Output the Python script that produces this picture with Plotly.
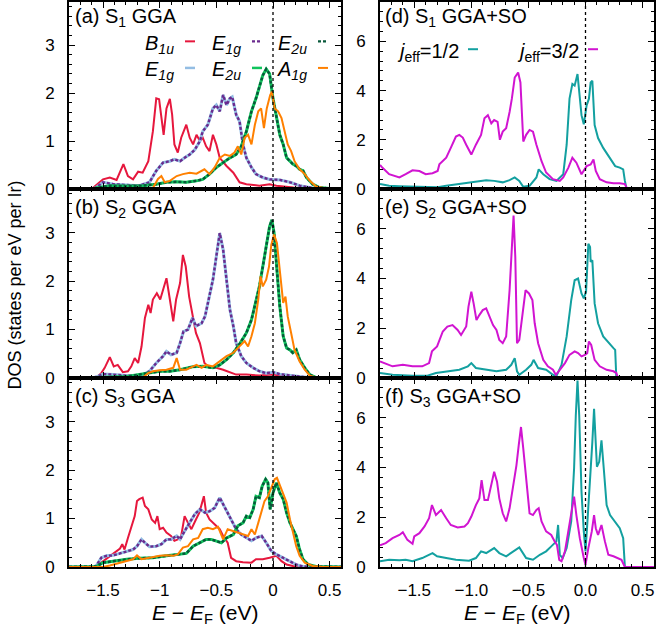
import plotly.graph_objects as go

# ---------------- data: (E - E_F [eV], DOS [states/eV/Ir]) ----------------
# (a) S1 GGA
a_B1u = [(-1.8,0),(-1.62,0),(-1.59,0.02),(-1.5,0.2),(-1.44,0.24),(-1.38,0.19),(-1.32,0.52),(-1.28,0.27),
         (-1.235,0.2),(-1.19,0.36),(-1.15,0.34),(-1.10,0.58),(-1.06,1.2),(-1.03,1.89),(-1.005,1.87),(-0.985,1.55),
         (-0.965,1.13),(-0.94,1.68),(-0.91,1.88),(-0.89,1.55),(-0.87,0.93),(-0.84,0.76),(-0.81,1.07),(-0.765,1.34),
         (-0.735,1.07),(-0.705,0.93),(-0.675,1.13),(-0.645,1.0),(-0.62,1.07),(-0.59,0.89),(-0.56,0.79),(-0.53,1.13),
         (-0.50,0.93),(-0.47,0.65),(-0.41,0.48),(-0.35,0.34),(-0.295,0.14),(-0.235,0.1),(-0.12,0.07),(-0.03,0.1),
         (0.03,0.07),(0.18,0.03),(0.35,0.0),(0.6,0)]
a_E1g = [(-1.8,0),(-1.6,0),(-1.56,0.03),(-1.5,0.14),(-1.41,0.1),(-1.29,0.09),(-1.18,0.07),(-1.09,0.14),(-1.03,0.38),
         (-0.97,0.55),(-0.91,0.58),(-0.87,0.62),(-0.82,0.58),(-0.78,0.65),(-0.735,0.72),(-0.69,0.82),(-0.645,1.0),
         (-0.62,1.2),(-0.575,1.34),(-0.53,1.68),(-0.5,1.75),(-0.47,1.62),(-0.44,1.96),(-0.41,1.75),(-0.38,1.89),
         (-0.36,1.92),(-0.325,1.55),(-0.295,1.41),(-0.265,0.93),(-0.235,0.65),(-0.19,0.45),(-0.15,0.31),(-0.09,0.24),
         (-0.03,0.2),(0.06,0.19),(0.15,0.14),(0.235,0.07),(0.35,0.02),(0.45,0),(0.6,0)]
a_E2u = [(-1.8,0),(-1.6,0),(-1.56,0.02),(-1.44,0.07),(-1.29,0.06),(-1.15,0.07),(-1.03,0.1),(-0.94,0.14),(-0.85,0.15),
         (-0.765,0.14),(-0.675,0.17),(-0.62,0.2),(-0.56,0.31),(-0.5,0.45),(-0.44,0.55),(-0.38,0.65),(-0.325,0.72),
         (-0.28,0.89),(-0.235,1.2),(-0.19,1.62),(-0.15,1.89),(-0.12,2.16),(-0.09,2.37),(-0.06,2.5),(-0.03,2.4),
         (0.0,1.89),(0.03,1.48),(0.06,1.13),(0.09,0.93),(0.12,0.65),(0.15,0.58),(0.175,0.52),(0.205,0.48),
         (0.235,0.41),(0.265,0.38),(0.295,0.24),(0.35,0.1),(0.41,0.03),(0.5,0.01),(0.6,0)]
a_A1g = [(-1.8,0),(-1.1,0),(-1.06,0.02),(-1.015,0.21),(-0.985,0.27),(-0.955,0.14),(-0.91,0.17),(-0.85,0.27),
         (-0.795,0.31),(-0.735,0.34),(-0.675,0.32),(-0.63,0.38),(-0.605,0.41),(-0.56,0.31),(-0.515,0.45),(-0.47,0.65),
         (-0.425,0.72),(-0.38,0.69),(-0.34,0.76),(-0.31,0.89),(-0.28,0.72),(-0.25,1.07),(-0.22,1.13),(-0.19,0.93),
         (-0.16,1.34),(-0.13,1.62),(-0.105,1.68),(-0.08,1.27),(-0.055,1.68),(-0.025,1.96),(-0.01,2.03),(0.015,1.68),
         (0.045,1.62),(0.075,1.48),(0.105,1.2),(0.13,0.93),(0.16,0.79),(0.19,0.58),(0.235,0.41),(0.28,0.31),
         (0.325,0.17),(0.38,0.05),(0.47,0.01),(0.6,0)]

# (b) S2 GGA
b_B1u = [(-1.8,0),(-1.6,0),(-1.56,0.01),(-1.515,0.1),(-1.485,0.21),(-1.44,0.43),(-1.405,0.24),(-1.37,0.27),
         (-1.325,0.12),(-1.28,0.14),(-1.25,0.24),(-1.22,0.41),(-1.19,0.31),(-1.16,0.65),(-1.13,1.24),(-1.10,1.51),
         (-1.08,1.34),(-1.06,1.62),(-1.025,1.75),(-0.995,1.62),(-0.97,1.82),(-0.94,2.06),(-0.91,1.62),(-0.88,1.17),
         (-0.855,1.62),(-0.82,1.96),(-0.795,2.54),(-0.77,2.3),(-0.74,1.68),(-0.71,1.34),(-0.68,0.93),(-0.645,0.72),
         (-0.605,0.31),(-0.56,0.21),(-0.5,0.21),(-0.44,0.17),(-0.38,0.12),(-0.325,0.07),(-0.235,0.07),(-0.12,0.05),
         (0.0,0.07),(0.12,0.03),(0.235,0.01),(0.35,0),(0.6,0)]
b_E1g = [(-1.8,0),(-1.6,0),(-1.56,0.02),(-1.5,0.08),(-1.41,0.07),(-1.29,0.05),(-1.18,0.03),(-1.09,0.14),(-1.03,0.31),
         (-0.97,0.45),(-0.94,0.55),(-0.90,0.48),(-0.85,0.52),(-0.82,0.72),(-0.79,0.96),(-0.75,1.0),(-0.71,1.24),
         (-0.68,1.07),(-0.63,1.13),(-0.60,1.27),(-0.575,1.55),(-0.53,2.03),(-0.5,2.51),(-0.47,2.99),(-0.44,2.65),
         (-0.41,2.03),(-0.38,1.41),(-0.35,1.07),(-0.325,0.72),(-0.28,0.45),(-0.235,0.31),(-0.175,0.21),(-0.12,0.14),
         (-0.06,0.1),(0.0,0.12),(0.06,0.08),(0.15,0.05),(0.235,0.03),(0.35,0.0),(0.6,0)]
b_E2u = [(-1.8,0),(-1.6,0),(-1.56,0.01),(-1.29,0.03),(-1.12,0.1),(-1.0,0.14),(-0.91,0.14),(-0.82,0.17),(-0.71,0.23),
         (-0.62,0.24),(-0.53,0.21),(-0.47,0.27),(-0.41,0.38),(-0.35,0.52),(-0.29,0.72),(-0.235,0.93),(-0.19,1.2),
         (-0.15,1.62),(-0.12,1.89),(-0.09,2.3),(-0.06,2.71),(-0.03,3.13),(-0.01,3.26),(0.01,2.99),(0.03,2.37),
         (0.06,1.48),(0.09,0.86),(0.12,0.62),(0.15,0.58),(0.175,0.52),(0.205,0.58),(0.235,0.38),(0.28,0.21),
         (0.325,0.07),(0.38,0.01),(0.6,0)]
b_A1g = [(-1.8,0),(-1.15,0.01),(-1.10,0.1),(-1.06,0.14),(-1.0,0.16),(-0.94,0.17),(-0.88,0.21),(-0.85,0.41),
         (-0.82,0.17),(-0.765,0.17),(-0.705,0.24),(-0.675,0.27),(-0.63,0.21),(-0.59,0.27),(-0.53,0.24),(-0.47,0.34),
         (-0.41,0.45),(-0.35,0.52),(-0.295,0.65),(-0.25,0.76),(-0.22,0.65),(-0.19,0.86),(-0.16,1.13),(-0.13,1.62),
         (-0.11,2.1),(-0.09,1.89),(-0.06,2.03),(-0.035,2.3),(-0.015,2.75),(0.01,2.96),(0.035,2.78),(0.06,2.16),
         (0.09,1.55),(0.11,1.68),(0.13,1.27),(0.16,0.93),(0.19,0.58),(0.235,0.34),(0.28,0.17),(0.325,0.05),
         (0.38,0.01),(0.6,0)]

# (c) S3 GGA
c_B1u = [(-1.8,0),(-1.6,0),(-1.56,0.01),(-1.515,0.09),(-1.455,0.19),(-1.4,0.3),(-1.35,0.38),(-1.33,0.47),
         (-1.31,0.36),(-1.28,0.6),(-1.25,0.85),(-1.22,1.05),(-1.2,1.36),(-1.18,1.4),(-1.15,1.43),(-1.13,1.26),
         (-1.10,1.19),(-1.07,0.98),(-1.04,0.91),(-1.02,1.05),(-1.0,0.78),(-0.97,0.81),(-0.94,0.71),(-0.9,0.64),
         (-0.87,0.54),(-0.84,0.57),(-0.81,0.64),(-0.78,1.05),(-0.75,0.91),(-0.72,0.78),(-0.68,0.98),(-0.65,1.12),
         (-0.61,1.46),(-0.59,1.12),(-0.56,0.98),(-0.515,0.88),(-0.47,0.78),(-0.44,0.64),(-0.4,0.5),(-0.37,0.19),
         (-0.325,0.12),(-0.265,0.1),(-0.19,0.09),(-0.15,0.16),(-0.09,0.16),(-0.03,0.19),(0.03,0.23),(0.075,0.12),
         (0.12,0.05),(0.175,0.02),(0.235,0),(0.6,0)]
c_E1g = [(-1.8,0),(-1.6,0),(-1.56,0.02),(-1.515,0.19),(-1.47,0.23),(-1.41,0.24),(-1.35,0.28),(-1.29,0.33),
         (-1.235,0.36),(-1.2,0.43),(-1.16,0.57),(-1.13,0.5),(-1.09,0.42),(-1.03,0.43),(-0.985,0.47),(-0.94,0.57),
         (-0.9,0.57),(-0.85,0.64),(-0.82,0.57),(-0.78,0.74),(-0.735,0.91),(-0.69,1.09),(-0.645,1.19),(-0.6,1.12),
         (-0.56,1.15),(-0.515,1.22),(-0.47,1.43),(-0.44,1.29),(-0.41,1.15),(-0.37,0.98),(-0.325,0.78),(-0.28,0.67),
         (-0.235,0.6),(-0.19,0.54),(-0.15,0.6),(-0.1,0.64),(-0.06,0.5),(-0.015,0.33),(0.03,0.26),(0.09,0.19),
         (0.15,0.12),(0.205,0.05),(0.265,0.01),(0.6,0)]
c_E2u = [(-1.8,0),(-1.6,0),(-1.56,0.01),(-1.5,0.09),(-1.41,0.12),(-1.29,0.16),(-1.18,0.18),(-1.06,0.19),(-0.94,0.23),
         (-0.82,0.26),(-0.765,0.28),(-0.705,0.43),(-0.645,0.5),(-0.59,0.57),(-0.545,0.57),(-0.5,0.54),(-0.455,0.5),
         (-0.41,0.6),(-0.35,0.67),(-0.31,0.85),(-0.265,0.91),(-0.235,1.05),(-0.205,1.02),(-0.175,1.19),(-0.15,1.46),
         (-0.12,1.43),(-0.095,1.67),(-0.065,1.81),(-0.045,1.74),(-0.025,1.19),(0.0,1.53),(0.03,1.74),(0.06,1.53),
         (0.09,1.4),(0.12,1.12),(0.15,0.91),(0.175,0.78),(0.205,0.64),(0.235,0.36),(0.265,0.16),(0.31,0.05),
         (0.38,0.01),(0.6,0)]
c_A1g = [(-1.8,0),(-1.5,0),(-1.44,0.03),(-1.35,0.09),(-1.29,0.12),(-1.235,0.16),(-1.2,0.24),(-1.16,0.16),
         (-1.09,0.19),(-1.0,0.23),(-0.94,0.24),(-0.88,0.23),(-0.84,0.26),(-0.795,0.4),(-0.75,0.43),(-0.705,0.57),
         (-0.66,0.6),(-0.62,0.78),(-0.575,0.81),(-0.53,0.78),(-0.485,0.83),(-0.44,0.57),(-0.4,0.78),(-0.35,0.74),
         (-0.295,0.71),(-0.25,0.67),(-0.22,0.64),(-0.19,0.78),(-0.16,0.67),(-0.13,0.91),(-0.1,1.19),(-0.075,1.36),
         (-0.045,1.46),(-0.015,1.64),(0.015,1.81),(0.035,1.84),(0.06,1.7),(0.09,1.53),(0.12,1.33),(0.15,0.98),
         (0.175,0.71),(0.205,0.43),(0.235,0.23),(0.28,0.09),(0.35,0.02),(0.44,0),(0.6,0)]

# (d) S1 GGA+SO
d_j12 = [(-1.8,0.2),(-1.72,0.13),(-1.63,0.11),(-1.515,0.09),(-1.4,0.07),(-1.295,0.07),(-1.22,0.13),(-1.105,0.2),
         (-0.99,0.27),(-0.87,0.36),(-0.8,0.33),(-0.725,0.27),(-0.665,0.36),(-0.62,0.47),(-0.58,0.33),(-0.545,0.09),
         (-0.49,0.13),(-0.43,0.47),(-0.41,0.8),(-0.37,0.6),(-0.315,0.4),(-0.255,0.33),(-0.195,0.6),(-0.165,1.8),
         (-0.14,3.67),(-0.115,4.27),(-0.095,4.2),(-0.07,4.67),(-0.035,3.0),(-0.015,2.63),(0.01,3.4),(0.03,3.67),
         (0.045,4.33),(0.06,4.4),(0.08,2.6),(0.11,2.07),(0.155,1.67),(0.215,1.27),(0.26,0.93),(0.3,0.87),
         (0.33,0.8),(0.345,0.33),(0.36,0),(0.6,0)]
d_j32 = [(-1.8,0.98),(-1.78,0.87),(-1.72,0.6),(-1.63,0.47),(-1.575,0.6),(-1.515,0.76),(-1.455,0.73),(-1.4,0.6),
         (-1.34,0.64),(-1.295,0.73),(-1.28,1.0),(-1.22,1.27),(-1.18,1.67),(-1.135,2.13),(-1.105,2.2),(-1.075,2.09),
         (-1.045,1.8),(-1.0,1.4),(-0.96,1.8),(-0.915,2.2),(-0.885,2.87),(-0.855,3.0),(-0.825,2.67),(-0.8,2.8),
         (-0.77,2.73),(-0.75,2.0),(-0.725,2.33),(-0.695,2.47),(-0.665,3.13),(-0.645,3.67),(-0.62,4.53),(-0.59,4.73),
         (-0.57,4.33),(-0.555,3.0),(-0.545,1.93),(-0.52,2.2),(-0.49,2.4),(-0.46,2.33),(-0.43,1.8),(-0.385,1.13),
         (-0.345,0.67),(-0.285,0.4),(-0.225,0.33),(-0.195,0.47),(-0.15,0.87),(-0.115,1.27),(-0.08,1.07),(-0.035,0.6),
         (0.01,0.93),(0.045,1.0),(0.07,1.2),(0.09,0.73),(0.125,0.4),(0.185,0.27),(0.245,0.23),(0.3,0.23),
         (0.345,0.2),(0.365,0.0),(0.6,0)]

# (e) S2 GGA+SO
e_j12 = [(-1.8,0.2),(-1.69,0.13),(-1.515,0.09),(-1.385,0.09),(-1.31,0.2),(-1.22,0.27),(-1.105,0.33),(-1.03,0.47),
         (-1.0,0.6),(-0.96,0.4),(-0.87,0.33),(-0.78,0.27),(-0.695,0.33),(-0.65,0.53),(-0.62,0.8),(-0.6,0.27),
         (-0.58,0.13),(-0.52,0.33),(-0.475,0.53),(-0.455,0.73),(-0.415,0.4),(-0.345,0.33),(-0.285,0.13),
         (-0.255,0.07),(-0.21,0.53),(-0.165,1.67),(-0.125,3.13),(-0.095,3.93),(-0.065,4.0),(-0.035,3.4),
         (-0.015,3.2),(0.005,3.47),(0.025,5.4),(0.04,5.27),(0.045,4.67),(0.06,4.73),(0.08,3.0),(0.11,2.2),
         (0.155,1.67),(0.215,1.33),(0.245,1.2),(0.26,1.13),(0.27,0),(0.6,0)]
e_j32 = [(-1.8,0.67),(-1.75,0.57),(-1.69,0.47),(-1.6,0.53),(-1.515,0.47),(-1.43,0.47),(-1.37,0.6),(-1.345,1.07),
         (-1.3,1.27),(-1.25,1.87),(-1.21,2.07),(-1.165,2.13),(-1.12,1.93),(-1.09,1.73),(-1.045,2.07),(-1.025,2.87),
         (-1.0,3.47),(-0.98,3.0),(-0.955,2.33),(-0.93,2.53),(-0.9,2.73),(-0.87,2.8),(-0.84,2.47),(-0.81,2.13),
         (-0.78,1.93),(-0.755,1.53),(-0.725,1.4),(-0.695,1.67),(-0.665,3.53),(-0.645,5.4),(-0.63,6.53),(-0.615,4.87),
         (-0.6,1.4),(-0.58,1.53),(-0.55,2.73),(-0.525,3.53),(-0.495,3.4),(-0.465,3.13),(-0.445,2.2),(-0.415,1.4),
         (-0.37,0.73),(-0.33,0.47),(-0.285,0.33),(-0.26,0.13),(-0.225,0.33),(-0.18,0.6),(-0.14,0.93),(-0.095,1.07),
         (-0.065,1.0),(-0.035,0.87),(-0.005,0.93),(0.015,1.0),(0.03,1.47),(0.05,1.33),(0.08,0.73),(0.125,0.47),
         (0.185,0.33),(0.245,0.27),(0.27,0.2),(0.285,0),(0.6,0)]

# (f) S3 GGA+SO
f_j12 = [(-1.8,0.23),(-1.72,0.29),(-1.63,0.27),(-1.575,0.29),(-1.515,0.23),(-1.43,0.36),(-1.34,0.56),(-1.3,0.43),
         (-1.22,0.36),(-1.135,0.29),(-1.02,0.25),(-0.96,0.36),(-0.915,0.63),(-0.87,0.56),(-0.8,0.76),(-0.755,0.56),
         (-0.695,0.43),(-0.635,0.63),(-0.58,0.79),(-0.52,0.36),(-0.46,0.29),(-0.4,0.49),(-0.345,0.63),(-0.3,0.83),
         (-0.255,1.03),(-0.24,1.69),(-0.225,0.49),(-0.2,0.36),(-0.165,0.76),(-0.125,1.83),(-0.1,3.96),(-0.085,6.09),
         (-0.07,7.5),(-0.055,6.09),(-0.035,3.03),(-0.015,1.43),(0.0,0.63),(0.015,1.69),(0.04,3.43),(0.06,5.03),
         (0.075,6.36),(0.09,4.89),(0.1,4.03),(0.12,4.23),(0.14,5.09),(0.16,3.96),(0.185,2.49),(0.215,2.09),
         (0.26,1.83),(0.3,1.56),(0.33,1.16),(0.345,0),(0.6,0)]
f_j32 = [(-1.8,0.87),(-1.75,0.96),(-1.69,1.16),(-1.63,1.29),(-1.6,1.4),(-1.56,1.09),(-1.515,0.93),(-1.5,1.23),
         (-1.455,1.36),(-1.41,1.63),(-1.37,1.96),(-1.345,2.49),(-1.31,2.09),(-1.265,2.29),(-1.22,1.96),(-1.18,1.69),
         (-1.12,1.59),(-1.06,1.63),(-1.03,1.76),(-1.0,2.03),(-0.96,2.49),(-0.93,2.76),(-0.91,3.49),(-0.885,2.69),
         (-0.855,2.69),(-0.825,3.29),(-0.8,3.83),(-0.775,3.43),(-0.755,2.76),(-0.725,2.16),(-0.695,1.83),(-0.665,2.36),
         (-0.635,3.16),(-0.605,4.09),(-0.585,4.89),(-0.565,5.63),(-0.545,4.76),(-0.52,3.43),(-0.49,2.16),(-0.46,2.09),
         (-0.43,2.29),(-0.41,2.36),(-0.385,1.83),(-0.345,1.43),(-0.3,1.29),(-0.27,1.03),(-0.25,0.89),(-0.23,0.29),
         (-0.21,0.23),(-0.18,0.63),(-0.15,1.43),(-0.125,2.23),(-0.1,2.83),(-0.08,2.09),(-0.05,1.16),(-0.015,0.36),
         (0.0,0.09),(0.025,0.76),(0.055,1.43),(0.075,2.09),(0.09,1.56),(0.11,1.29),(0.14,1.69),(0.17,1.03),
         (0.2,0.49),(0.245,0.43),(0.29,0.36),(0.315,0.29),(0.345,0),(0.6,0)]

panel_titles = ["(a) S<sub>1</sub> GGA", "(b) S<sub>2</sub> GGA", "(c) S<sub>3</sub> GGA",
                "(d) S<sub>1</sub> GGA+SO", "(e) S<sub>2</sub> GGA+SO", "(f) S<sub>3</sub> GGA+SO"]
gga_sets = [(a_B1u, a_E1g, a_E2u, a_A1g), (b_B1u, b_E1g, b_E2u, b_A1g), (c_B1u, c_E1g, c_E2u, c_A1g)]
so_sets = [(d_j12, d_j32), (e_j12, e_j32), (f_j12, f_j32)]

# ---------------- styles ----------------
W, H = 656, 640
FONT = "Liberation Sans, Arial, Helvetica, sans-serif"
C_B1U = "#e6173d"
C_E1G_SOLID = "#93bde3"
C_E1G_DOT = "#6a2a8e"
C_E2U_SOLID = "#10c45c"
C_E2U_DOT = "#07583a"
C_A1G = "#ff8000"
C_J12 = "#13a0a0"
C_J32 = "#d114d1"
DOT = "3px,2px"

xdom = [[69 / W, 341 / W], [380 / W, 654 / W]]
ydom = [[1 - 192 / H, 1 - 2 / H], [1 - 384 / H, 1 - 192 / H], [1 - 576 / H, 1 - 384 / H]]


def xid(i):
    return "x" if i == 1 else f"x{i}"


def yid(i):
    return "y" if i == 1 else f"y{i}"


def xy(pts):
    xs, ys = zip(*pts)
    return list(xs), list(ys)


fig = go.Figure()


def add(idx, pts, color, width, dash=None):
    xs, ys = xy(pts)
    fig.add_trace(go.Scatter(x=xs, y=ys, mode="lines", xaxis=xid(idx), yaxis=yid(idx),
                             line=dict(color=color, width=width, dash=dash), hoverinfo="skip"))


for r, (B1u, E1g, E2u, A1g) in enumerate(gga_sets):
    i = r + 1
    add(i, B1u, C_B1U, 2)
    add(i, E1g, C_E1G_SOLID, 3)
    add(i, E1g, C_E1G_DOT, 2.4, DOT)
    add(i, E2u, C_E2U_SOLID, 3)
    add(i, E2u, C_E2U_DOT, 2.4, DOT)
    add(i, A1g, C_A1G, 2)

for r, (j12, j32) in enumerate(so_sets):
    i = r + 4
    add(i, j12, C_J12, 2)
    add(i, j32, C_J32, 2)

layout = dict(width=W, height=H, margin=dict(l=0, r=0, t=0, b=0), showlegend=False,
              plot_bgcolor="white", paper_bgcolor="white",
              font=dict(family=FONT, size=17, color="black"))

shapes = []
annotations = []
for i in range(1, 7):
    col = 0 if i <= 3 else 1
    row = (i - 1) % 3
    bottom = row == 2
    xa = dict(domain=xdom[col], anchor=yid(i), range=[-1.8, 0.6], showgrid=False, zeroline=False,
              showline=True, linecolor="black", linewidth=2, mirror="ticks",
              ticks="inside", ticklen=6, tickwidth=1, tickcolor="black", tick0=0, dtick=0.5,
              minor=dict(ticks="inside", ticklen=3, tickwidth=1, tickcolor="black", dtick=0.1, showgrid=False),
              showticklabels=bottom, ticklabelstandoff=7, tickfont=dict(size=17))
    if col == 1:
        xa["tickformat"] = ".1f"
    ya = dict(domain=ydom[row], anchor=xid(i), showgrid=False, zeroline=False,
              showline=True, linecolor="black", linewidth=2, mirror="ticks",
              ticks="inside", ticklen=6, tickwidth=1, tickcolor="black", tick0=0,
              range=[0, 3.9] if col == 0 else [0, 7.6], dtick=1 if col == 0 else 2,
              minor=dict(ticks="inside", ticklen=3, tickwidth=1, tickcolor="black",
                         dtick=0.2 if col == 0 else 0.4, showgrid=False),
              ticklabelstandoff=9, tickfont=dict(size=17))
    layout["xaxis" if i == 1 else f"xaxis{i}"] = xa
    layout["yaxis" if i == 1 else f"yaxis{i}"] = ya
    # Fermi level
    shapes.append(dict(type="line", xref=xid(i), yref=yid(i) + " domain", x0=0, x1=0, y0=0, y1=1,
                       line=dict(color="black", width=1.3, dash="3px,3px"), layer="above"))
    # panel title
    tops = [3, 197, 389]
    annotations.append(dict(text=panel_titles[i - 1], xref="paper", yref="paper",
                            x=(73 if col == 0 else 383) / W, y=1 - tops[row] / H,
                            xanchor="left", yanchor="top", showarrow=False,
                            font=dict(family=FONT, size=20, color="black")))

# legend of panel (a): text right-aligned, short line samples
leg_a = [("<i>B</i><sub><i>1u</i></sub>", 176, 42, C_B1U, None, 2),
         ("<i>E</i><sub><i>1g</i></sub>", 243, 42, C_E1G_DOT, DOT, 2.4),
         ("<i>E</i><sub><i>2u</i></sub>", 309, 42, C_E2U_DOT, DOT, 2.4),
         ("<i>E</i><sub><i>1g</i></sub>", 176, 69, C_E1G_SOLID, None, 2.5),
         ("<i>E</i><sub><i>2u</i></sub>", 243, 69, C_E2U_SOLID, None, 2.5),
         ("<i>A</i><sub><i>1g</i></sub>", 309, 69, C_A1G, None, 2)]
for txt, xr, yc, colr, dsh, wd in leg_a:
    annotations.append(dict(text=txt, xref="paper", yref="paper", x=xr / W, y=1 - (yc + 3) / H,
                            xanchor="right", yanchor="middle", showarrow=False,
                            font=dict(family=FONT, size=20, color="black")))
    shapes.append(dict(type="line", xref="paper", yref="paper", x0=(xr + 9) / W, x1=(xr + 19) / W,
                       y0=1 - yc / H, y1=1 - yc / H, line=dict(color=colr, width=wd, dash=dsh)))

leg_d = [("<i>j</i><sub>eff</sub>=1/2", 461, 50, C_J12),
         ("<i>j</i><sub>eff</sub>=3/2", 581, 50, C_J32)]
for txt, xr, yc, colr in leg_d:
    annotations.append(dict(text=txt, xref="paper", yref="paper", x=xr / W, y=1 - (yc + 3) / H,
                            xanchor="right", yanchor="middle", showarrow=False,
                            font=dict(family=FONT, size=20, color="black")))
    shapes.append(dict(type="line", xref="paper", yref="paper", x0=(xr + 7) / W, x1=(xr + 17) / W,
                       y0=1 - yc / H, y1=1 - yc / H, line=dict(color=colr, width=2)))

# axis titles
for xc in (205, 517):
    annotations.append(dict(text="<i>E</i> − <i>E</i><sub>F</sub> (eV)", xref="paper", yref="paper",
                            x=xc / W, y=1 - 624 / H, xanchor="center", yanchor="middle", showarrow=False,
                            font=dict(family=FONT, size=21, color="black")))
annotations.append(dict(text="DOS (states per eV per Ir)", xref="paper", yref="paper",
                        x=15 / W, y=1 - 290 / H, xanchor="center", yanchor="middle", textangle=-90,
                        showarrow=False, font=dict(family=FONT, size=18, color="black")))

layout["shapes"] = shapes
layout["annotations"] = annotations
fig.update_layout(**layout)
fig.write_html("out.html")
